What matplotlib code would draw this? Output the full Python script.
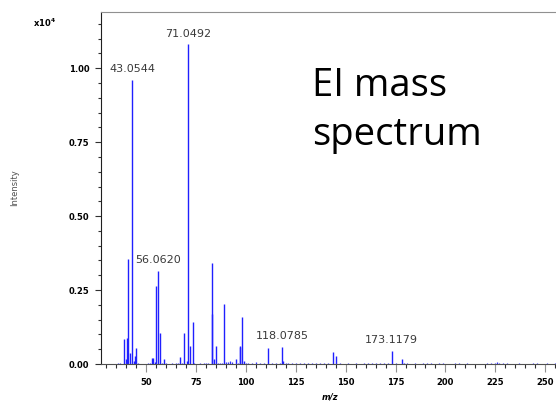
import numpy as np
import matplotlib.pyplot as plt
from matplotlib.ticker import MultipleLocator

# peak list (intensity in units of 1e4)
mz = [39.02, 40.03, 40.6, 41.04, 42.05, 43.0544, 44.0, 44.3, 45.2,
      53.0, 53.6, 54.4, 55.05, 56.0620, 57.07, 59.1, 67.05, 69.07, 70.4,
      71.0492, 72.05, 73.3, 82.9, 83.3, 84.2, 85.2, 89.2, 94.9, 96.9,
      97.3, 98.3, 99.3, 111.0, 118.0785, 118.5, 143.5, 145.2, 173.1179,
      178.1, 179.0]
intensity = [0.084, 0.017, 0.088, 0.355, 0.037, 0.96, 0.010, 0.026, 0.054,
             0.019, 0.019, 0.006, 0.264, 0.315, 0.105, 0.016, 0.022, 0.105, 0.010,
             1.081, 0.062, 0.141, 0.170, 0.341, 0.018, 0.062, 0.202, 0.016, 0.060,
             0.056, 0.159, 0.010, 0.053, 0.058, 0.010, 0.042, 0.028, 0.044,
             0.017, 0.005]

# small baseline peaks
noise_mz = [36, 37, 46, 51, 52, 58, 60, 63, 65, 66, 68, 74, 77, 79, 80, 81,
            86, 87, 88, 90, 91, 92, 93, 96, 100, 101, 103, 105, 107, 109, 113,
            115, 117, 120, 121, 123, 125, 127, 129, 131, 133, 135, 137, 139, 141,
            147, 151, 155, 159, 161, 163, 165, 167, 169, 171, 175, 181, 185, 189,
            191, 193, 197, 199, 205, 207, 211, 221, 223, 225, 226, 227, 229, 231,
            237, 244, 246, 251, 255]
noise_int = [0.004, 0.005, 0.005, 0.004, 0.004, 0.005, 0.004, 0.003, 0.005, 0.004,
             0.004, 0.004, 0.003, 0.005, 0.004, 0.004, 0.004, 0.004, 0.004, 0.006,
             0.008, 0.010, 0.008, 0.005, 0.004, 0.005, 0.004, 0.006, 0.004, 0.004,
             0.004, 0.004, 0.004, 0.005, 0.004, 0.004, 0.004, 0.004, 0.003, 0.004,
             0.004, 0.004, 0.003, 0.004, 0.004, 0.004, 0.004, 0.003, 0.004, 0.004,
             0.005, 0.004, 0.003, 0.004, 0.004, 0.004, 0.004, 0.004, 0.005, 0.004,
             0.005, 0.004, 0.003, 0.004, 0.005, 0.003, 0.004, 0.004, 0.005, 0.006,
             0.005, 0.004, 0.004, 0.004, 0.003, 0.004, 0.004, 0.004]

labelled = ['43.0544', '71.0492', '56.0620', '118.0785', '173.1179']

fig = plt.figure(figsize=(5.56, 4.01), dpi=100)
ax = fig.add_axes([101/556, 1 - 364/401, 459/556, 352/401])

ax.vlines(noise_mz, 0, noise_int, color='#3030ff', lw=0.9)
ax.vlines(mz, 0, intensity, color='#2020ff', lw=1.0)

for lab in labelled:
    i = mz.index(float(lab))
    ax.annotate(lab, (mz[i], intensity[i]), xytext=(0, 4), textcoords='offset points',
                ha='center', va='bottom', fontsize=8, color='#3a3a3a')

ax.set_xlim(27.45, 257.4)
ax.set_ylim(0, 1.19)

ax.xaxis.set_major_locator(MultipleLocator(25))
ax.xaxis.set_minor_locator(MultipleLocator(5))
ax.yaxis.set_major_locator(MultipleLocator(0.25))
ax.yaxis.set_minor_locator(MultipleLocator(0.05))
ax.yaxis.set_major_formatter(lambda v, p: f'{v:.2f}')

ax.tick_params(axis='x', which='major', length=5.8, width=0.8, color='#909090',
               pad=4.5, labelsize=6)
ax.tick_params(axis='x', which='minor', length=2.9, width=0.8, color='#303030')
ax.tick_params(axis='y', which='major', length=4.0, width=0.8, color='#303030',
               pad=4.3, labelsize=6)
ax.tick_params(axis='y', which='minor', length=2.0, width=0.8, color='#303030')
for t in ax.get_xticklabels() + ax.get_yticklabels():
    t.set_fontweight('bold')

ax.spines['left'].set_color('#202020')
ax.spines['bottom'].set_color('#505050')
ax.spines['top'].set_color('#909090')
ax.spines['right'].set_visible(False)
for s in ax.spines.values():
    s.set_linewidth(0.8)

fig.text(330/556, 1 - 397/401, 'm/z', ha='center', va='center', fontsize=6,
         style='italic', fontweight='bold')
fig.text(15/556, 1 - 188/401, 'Intensity', rotation=90, ha='center', va='center',
         fontsize=6, color='#505050')
fig.text(33/556, 1 - 23/401, r'x10$^{\mathbf{4}}$', ha='left', va='center',
         fontsize=6, fontweight='bold')

fig.text(312/556, 1 - 96/401, 'EI mass', fontsize=27.5, family='Open Sans',
         ha='left', va='baseline')
fig.text(312/556, 1 - 145/401, 'spectrum', fontsize=27.5, family='Open Sans',
         ha='left', va='baseline')

fig.savefig('out.png', dpi=100)
